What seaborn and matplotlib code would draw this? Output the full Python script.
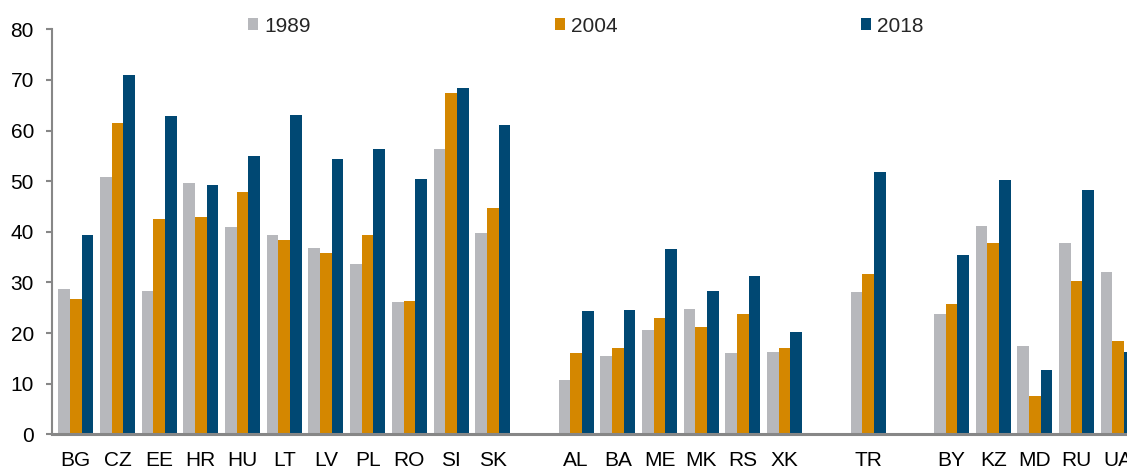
import pandas as pd
import seaborn as sns
import matplotlib.pyplot as plt
from matplotlib.patches import Patch

# values
countries = ["BG", "CZ", "EE", "HR", "HU", "LT", "LV", "PL", "RO", "SI", "SK",
             "AL", "BA", "ME", "MK", "RS", "XK",
             "TR",
             "BY", "KZ", "MD", "RU", "UA"]
v1989 = [28.7, 50.8, 28.3, 49.6, 41.0, 39.4, 36.8, 33.7, 26.2, 56.3, 39.8,
         10.7, 15.5, 20.5, 24.7, 16.0, 16.2,
         28.1,
         23.7, 41.2, 17.4, 37.7, 32.1]
v2004 = [26.8, 61.5, 42.5, 42.9, 47.8, 38.4, 35.8, 39.4, 26.4, 67.4, 44.6,
         16.0, 17.0, 23.0, 21.2, 23.7, 17.0,
         31.7,
         25.8, 37.7, 7.6, 30.3, 18.4]
v2018 = [39.4, 70.9, 62.8, 49.3, 54.9, 63.1, 54.3, 56.3, 50.5, 68.4, 61.0,
         24.3, 24.6, 36.6, 28.4, 31.2, 20.3,
         51.8,
         35.5, 50.3, 12.6, 48.3, 16.2]
years = ["1989", "2004", "2018"]
colors = ["#B7B8BC", "#D48700", "#004873"]

# empty slots between the country groups
order = countries[:11] + [" "] + countries[11:17] + ["  "] + ["TR"] + ["   "] + countries[18:]

df = pd.DataFrame({"country": countries * 3,
                   "year": [y for y in years for _ in countries],
                   "value": v1989 + v2004 + v2018})

sns.set_theme(style="white")
plt.rcParams["font.family"] = ["Liberation Sans", "DejaVu Sans"]

fig = plt.figure(figsize=(11.27, 4.70), dpi=100)
ax = fig.add_axes([0.0461, 0.076, 1 - 0.0461, 0.9377 - 0.076])

sns.barplot(data=df, x="country", y="value", hue="year", order=order,
            hue_order=years, palette=colors, width=0.84, saturation=1,
            gap=0, legend=False, ax=ax, linewidth=0)

ax.set_xlim(-0.571, 25.21)
ax.set_ylim(0, 80)
ax.set_yticks(range(0, 81, 10))
ax.set_xlabel("")
ax.set_ylabel("")

for s in ["top", "right"]:
    ax.spines[s].set_visible(False)
ax.spines["left"].set_color("#878787")
ax.spines["left"].set_linewidth(1.5)
ax.spines["bottom"].set_color("#878787")
ax.spines["bottom"].set_linewidth(2.2)

ax.tick_params(axis="y", direction="out", length=4, width=1.5, color="#878787",
               labelsize=15, labelcolor="black", pad=9, left=True)
ax.tick_params(axis="x", length=0, labelsize=15, labelcolor="black", pad=12)

handles = [Patch(facecolor=c, edgecolor="none", label=y) for c, y in zip(colors, years)]
fig.legend(handles=handles, ncol=3, loc="center left",
           bbox_to_anchor=(248 / 1127, 1 - 26 / 470), frameon=False,
           fontsize=15, handlelength=0.48, handleheight=0.48, handletextpad=0.3,
           columnspacing=11.7, borderpad=0, borderaxespad=0)

fig.savefig("out.png", dpi=100)
